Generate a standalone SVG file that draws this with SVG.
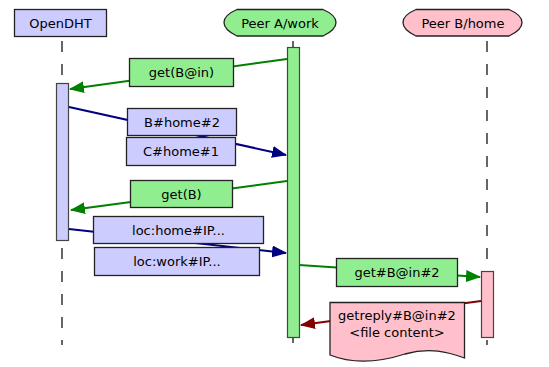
<svg xmlns="http://www.w3.org/2000/svg" width="549" height="367" viewBox="0 0 549 367">
<style>
text{font-family:"DejaVu Sans","Liberation Sans",sans-serif;font-size:13px;fill:#000;text-anchor:middle}
.blue{fill:#ccccff;stroke:#222;stroke-width:1.3}
.green{fill:#90ee90;stroke:#222;stroke-width:1.3}
.pink{fill:#ffc0cb;stroke:#222;stroke-width:1.3}
.life{stroke:#000;stroke-width:1.2;stroke-dasharray:11,12;fill:none}
.mg{stroke:#008000;stroke-width:2;fill:none}
.mb{stroke:#000080;stroke-width:2;fill:none}
.mr{stroke:#800000;stroke-width:2;fill:none}
.act{stroke:#444;stroke-width:1.2}
</style>
<defs>
<marker id="ag" markerWidth="15" markerHeight="12" refX="14" refY="6" orient="auto" markerUnits="userSpaceOnUse"><path d="M0,0 L15,6 L0,12 Z" fill="#008000"/></marker>
<marker id="ab" markerWidth="15" markerHeight="12" refX="14" refY="6" orient="auto" markerUnits="userSpaceOnUse"><path d="M0,0 L15,6 L0,12 Z" fill="#000080"/></marker>
<marker id="ar" markerWidth="15" markerHeight="12" refX="14" refY="6" orient="auto" markerUnits="userSpaceOnUse"><path d="M0,0 L15,6 L0,12 Z" fill="#800000"/></marker>
</defs>
<g id="lifelines">
<line class="life" x1="62" y1="41" x2="62" y2="345"/>
<line x1="293" y1="41" x2="293" y2="343" stroke="#000" stroke-width="1.2"/>
<line class="life" x1="487" y1="41" x2="487" y2="345"/>
</g>
<g id="node-opendht">
<rect class="blue" x="14.5" y="9.5" width="92" height="27"/>
<text x="60.5" y="27.5">OpenDHT</text>
<rect class="blue act" x="56.5" y="83.5" width="12" height="157"/>
</g>
<g id="node-peerA">
<path class="green" d="M237,9.5 H323 Q336,15 336,22.5 Q336,30 323,36 H237 Q224,30 224,22.5 Q224,15 237,9.5 Z"/>
<text x="280" y="27.5">Peer A/work</text>
<rect class="green act" x="287.5" y="47.5" width="12" height="290"/>
</g>
<g id="node-peerB">
<path class="pink" d="M416,9.5 H509 Q522,15 522,22.5 Q522,30 509,36 H416 Q403,30 403,22.5 Q403,15 416,9.5 Z"/>
<text x="463" y="27.5">Peer B/home</text>
<rect class="pink act" x="481.5" y="271.5" width="12" height="66"/>
</g>
<g id="connectors">
<line class="mg" x1="287" y1="59" x2="70" y2="89" marker-end="url(#ag)"/>
<line class="mb" x1="69" y1="107" x2="286" y2="155" marker-end="url(#ab)"/>
<line class="mg" x1="287" y1="181" x2="71" y2="210" marker-end="url(#ag)"/>
<line class="mb" x1="69" y1="229" x2="286" y2="253" marker-end="url(#ab)"/>
<line class="mg" x1="299" y1="265" x2="480" y2="277" marker-end="url(#ag)"/>
<line class="mr" x1="481" y1="301" x2="301" y2="325" marker-end="url(#ar)"/>
</g>
<g id="label-getBin">
<rect class="green" x="129.5" y="58.5" width="104" height="28"/>
<text x="181.5" y="77">get(B@in)</text>
</g>
<g id="label-Bhome2">
<rect class="blue" x="127.5" y="108.5" width="109" height="27"/>
<text x="182" y="126.5">B#home#2</text>
</g>
<g id="label-Chome1">
<rect class="blue" x="126.5" y="137.5" width="109" height="28"/>
<text x="181" y="156">C#home#1</text>
</g>
<g id="label-getB">
<rect class="green" x="130.5" y="180.5" width="102" height="27"/>
<text x="181.5" y="198.5">get(B)</text>
</g>
<g id="label-lochome">
<rect class="blue" x="93.5" y="216.5" width="170" height="27"/>
<text x="178.5" y="234.5">loc:home#IP...</text>
</g>
<g id="label-locwork">
<rect class="blue" x="94.5" y="247.5" width="165" height="28"/>
<text x="177" y="266">loc:work#IP...</text>
</g>
<g id="label-getBin2">
<rect class="green" x="336.5" y="258.5" width="121" height="28"/>
<text x="397" y="277">get#B@in#2</text>
</g>
<g id="label-getreply">
<path class="pink" d="M330,302.5 H464.5 V358 C448,352 430,347 405,354 C380,362 355,365 330,355 Z"/>
<text x="397" y="320">getreply#B@in#2</text>
<text x="397" y="337">&lt;file content&gt;</text>
</g>
</svg>
